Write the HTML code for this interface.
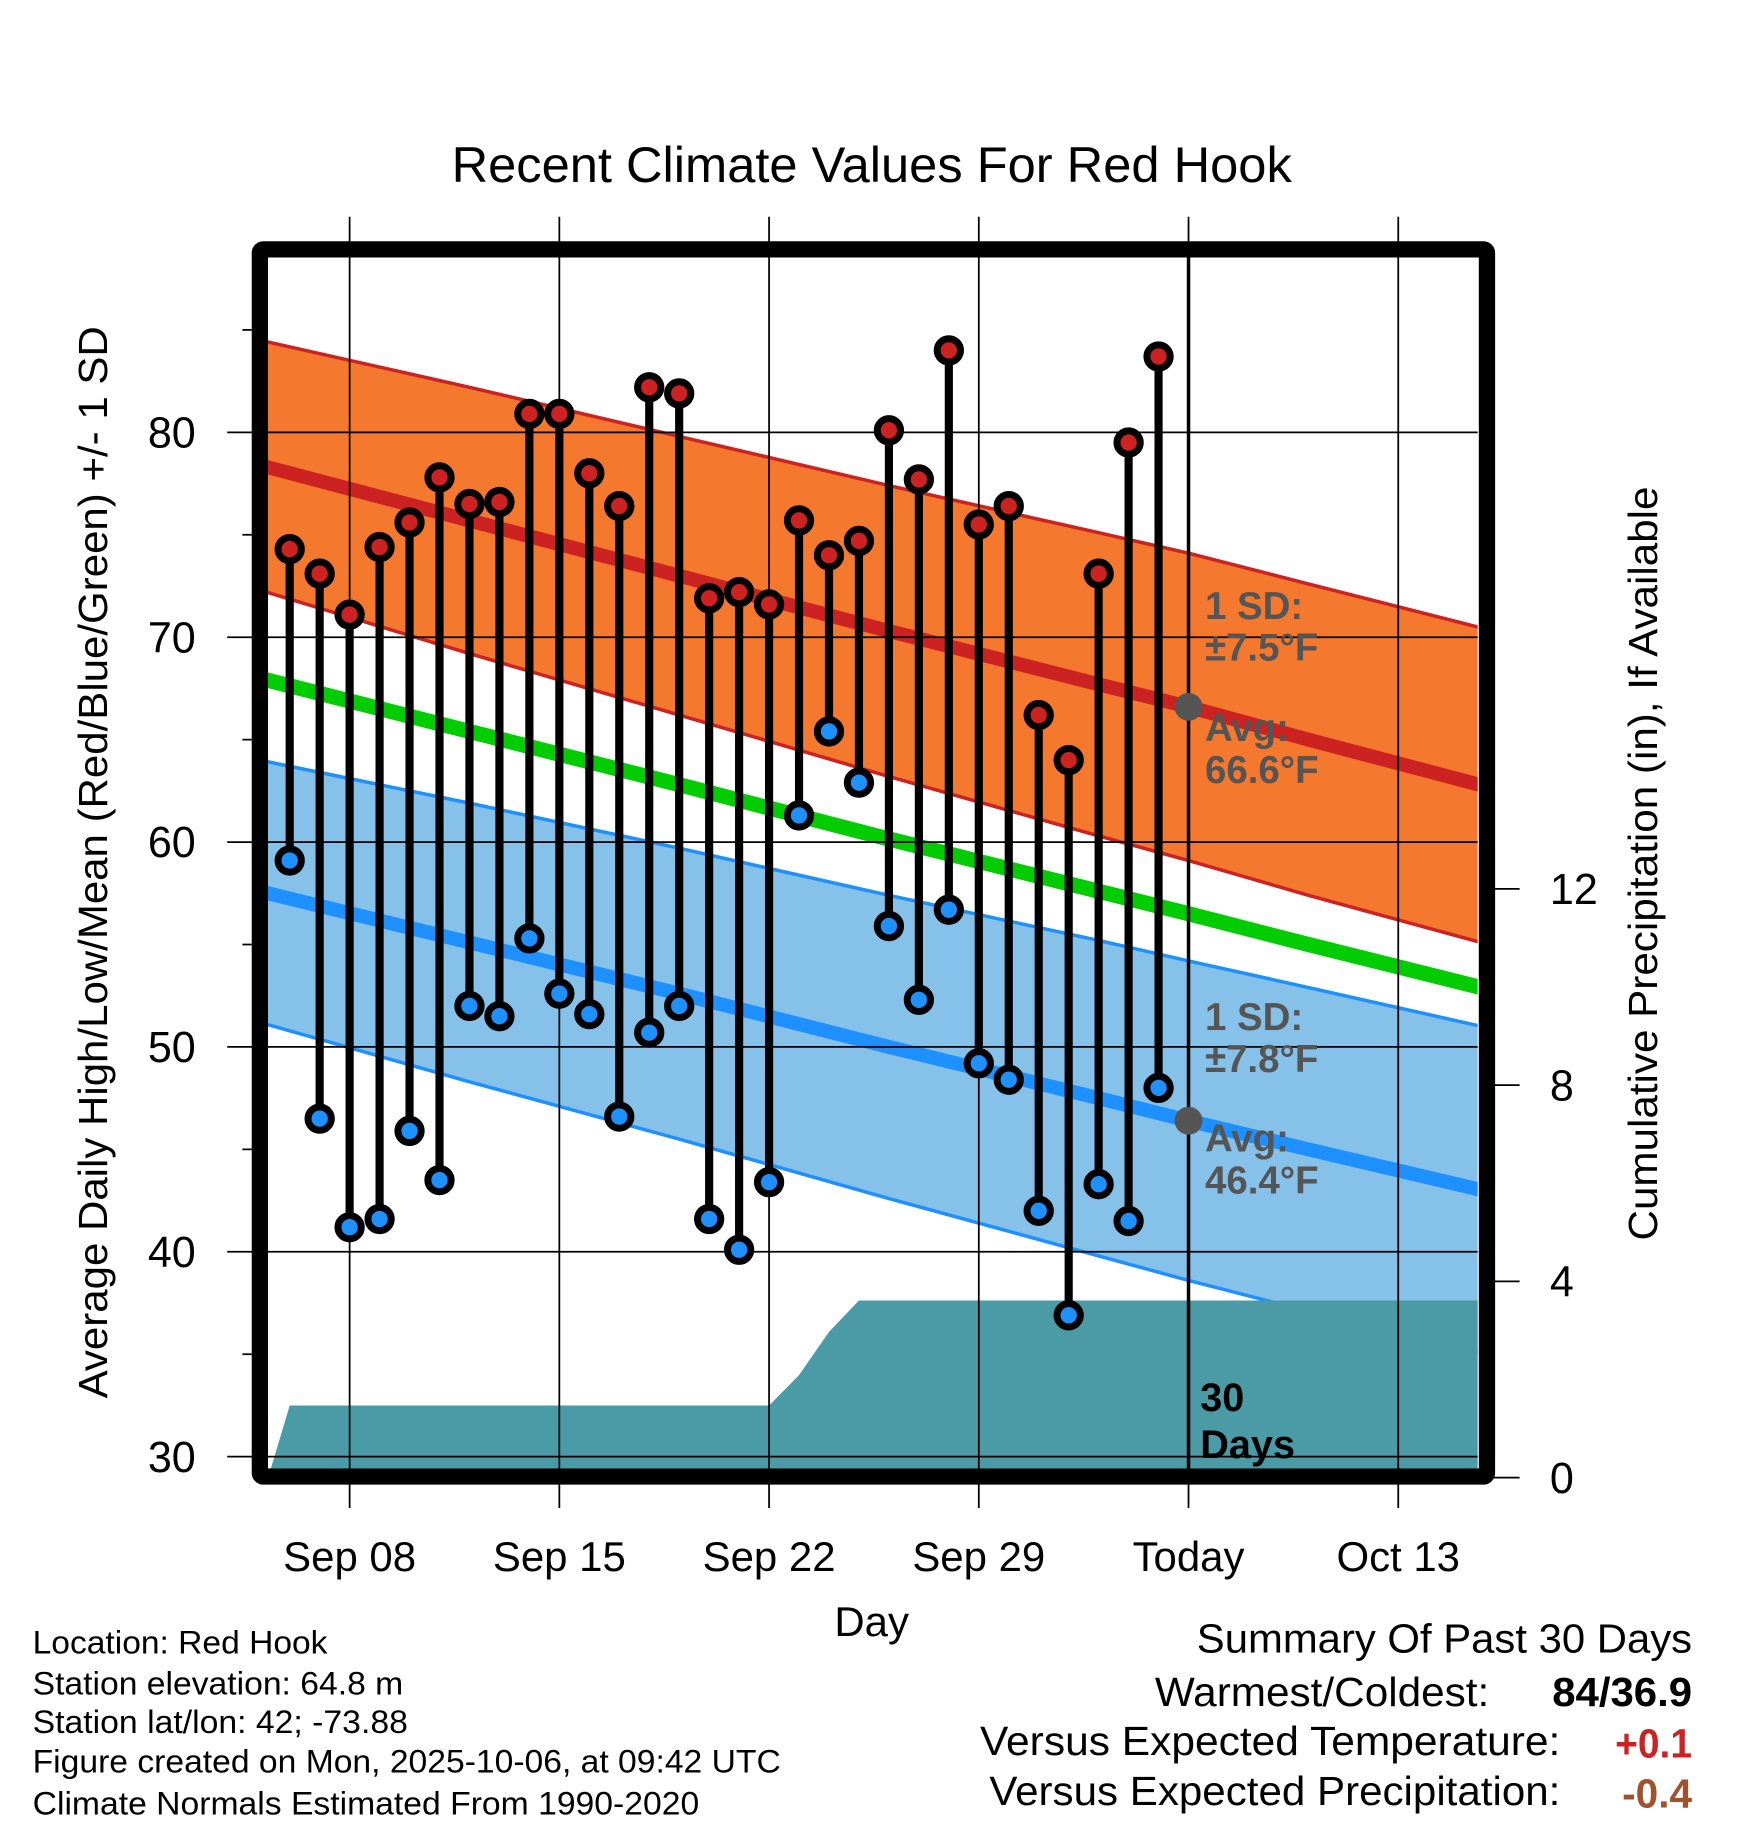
<!DOCTYPE html>
<html><head><meta charset="utf-8">
<style>
html,body{margin:0;padding:0;background:#fff;}
svg{display:block;font-family:"Liberation Sans",Arial,sans-serif;}
</style></head>
<body>
<svg id="chart" width="1748" height="1828" viewBox="0 0 1500 1568.65" preserveAspectRatio="none" xmlns="http://www.w3.org/2000/svg">
<defs><clipPath id="plotclip"><rect x="230" y="221" width="1038" height="1039"/></clipPath></defs>
<g id="bands" clip-path="url(#plotclip)"></g>
<g id="overlay"></g>
</svg>
<script>
// ---- data ----
const normDays   = [-1, 6, 13, 20, 27, 30, 34, 41];
const normHigh   = [78.4, 75.7, 73.0, 70.3, 67.7, 66.6, 65.0, 62.3];
const sdHigh     = [6.1, 6.5, 6.8, 7.1, 7.4, 7.5, 7.6, 7.7];
const normLow    = [57.6, 55.1, 52.6, 50.0, 47.5, 46.4, 45.0, 42.6];
const sdLow      = [6.4, 6.8, 7.1, 7.4, 7.7, 7.8, 7.9, 8.0];
const obsHigh = [74.3,73.1,71.1,74.4,75.6,77.8,76.5,76.6,80.9,80.9,78.0,76.4,82.2,81.9,71.9,72.2,71.6,75.7,74.0,74.7,80.1,77.7,84.0,75.5,76.4,66.2,64.0,73.1,79.5,83.7];
const obsLow  = [59.1,46.5,41.2,41.6,45.9,43.5,52.0,51.5,55.3,52.6,51.6,46.6,50.7,52.0,41.6,40.1,43.4,61.3,65.4,62.9,55.9,52.3,56.7,49.2,48.4,42.0,36.9,43.3,41.5,48.0];
const precipCum = [1.47,1.47,1.47,1.47,1.47,1.47,1.47,1.47,1.47,1.47,1.47,1.47,1.47,1.47,1.47,1.47,1.47,2.09,2.97,3.61,3.61,3.61,3.61,3.61,3.61,3.61,3.61,3.61,3.61,3.61];
const xTickDays   = [2, 9, 16, 23, 30, 37];
const xTickLabels = ["Sep 08","Sep 15","Sep 22","Sep 29","Today","Oct 13"];
const yTicks = [30,40,50,60,70,80];
const yMinor = [35,45,55,65,75,85];
const pTicks = [0,4,8,12];
const todayIdx = 30;

// ---- axes ----
const X = d => 248.6 + d*25.71;
const Y = t => 1250 - (t-30)*17.58;
const P = p => 1268 - p*42.1;
const NS='http://www.w3.org/2000/svg';
const bands=document.getElementById('bands'), ov=document.getElementById('overlay');
function mk(parent,tag,attrs,text){const e=document.createElementNS(NS,tag);for(const k in attrs)e.setAttribute(k,attrs[k]);if(text!==undefined)e.textContent=text;parent.appendChild(e);return e;}
const pts=(f)=>normDays.map((d,i)=>X(d)+','+Y(f(i))).join(' ');

let e;
e=mk(bands,'polygon',{points:pts(i=>normHigh[i]+sdHigh[i])+' '+normDays.map((d,i)=>X(d)+','+Y(normHigh[i]-sdHigh[i])).reverse().join(' '),fill:'#f5782f'});


e=mk(bands,'polygon',{points:pts(i=>normLow[i]+sdLow[i])+' '+normDays.map((d,i)=>X(d)+','+Y(normLow[i]-sdLow[i])).reverse().join(' '),fill:'#85c1e9'});


[[i=>normHigh[i]+sdHigh[i],'#cc2222',3],[i=>normHigh[i]-sdHigh[i],'#cc2222',3],[i=>normLow[i]+sdLow[i],'#1e90ff',3],[i=>normLow[i]-sdLow[i],'#1e90ff',3]].forEach(a=>{
  e=mk(bands,'polyline',{points:pts(a[0]),fill:'none',stroke:a[1],'stroke-width':a[2]});
  
  
});
e=mk(bands,'polyline',{points:pts(i=>normHigh[i]),fill:'none',stroke:'#cc2222','stroke-width':12});


e=mk(bands,'polyline',{points:pts(i=>normLow[i]),fill:'none',stroke:'#1e90ff','stroke-width':12});


e=mk(bands,'polyline',{points:pts(i=>(normHigh[i]+normLow[i])/2),fill:'none',stroke:'#00cc00','stroke-width':13});



let pp=[X(-0.72)+','+P(0)];
precipCum.forEach((v,i)=>pp.push(X(i)+','+P(v)));
pp.push(X(41)+','+P(precipCum[precipCum.length-1]));
pp.push(X(41)+','+P(0));
e=mk(bands,'polygon',{points:pp.join(' '),fill:'#4a9ba5'});



yTicks.forEach(t=>{
  e=mk(ov,'line',{x1:195,x2:1268,y1:Y(t),y2:Y(t),stroke:'#000','stroke-width':1.5});
  
  
  e=mk(ov,'text',{x:168,y:Y(t)+13,'font-size':37,'text-anchor':'end'},t);
  
  
});
yMinor.forEach(t=>{
  e=mk(ov,'line',{x1:208,x2:216,y1:Y(t),y2:Y(t),stroke:'#000','stroke-width':1.5});
  
  
});
xTickDays.forEach((d,i)=>{
  e=mk(ov,'line',{x1:X(d),x2:X(d),y1:186,y2:1294,stroke:'#000','stroke-width':1.5});
  
  
  e=mk(ov,'text',{x:X(d),y:1348,'font-size':36,'text-anchor':'middle'},xTickLabels[i]);
  
  
});
pTicks.forEach(p=>{
  e=mk(ov,'line',{x1:1276,x2:1304,y1:P(p),y2:P(p),stroke:'#000','stroke-width':1.5});
  
  
  e=mk(ov,'text',{x:1330,y:P(p)+13,'font-size':37},p);
  
  
});

e=mk(ov,'line',{x1:X(todayIdx),x2:X(todayIdx),y1:221,y2:1260,stroke:'#000','stroke-width':3});



obsHigh.forEach((h,i)=>{
  const x=X(i);
  e=mk(ov,'line',{x1:x,x2:x,y1:Y(h),y2:Y(obsLow[i]),stroke:'#000','stroke-width':7});
  
  
  e=mk(ov,'circle',{cx:x,cy:Y(h),r:10,fill:'#cc2222',stroke:'#000','stroke-width':6});
  
  
  e=mk(ov,'circle',{cx:x,cy:Y(obsLow[i]),r:10,fill:'#1e90ff',stroke:'#000','stroke-width':6});
  
  
});

const hiToday=normHigh[normDays.indexOf(30)], loToday=normLow[normDays.indexOf(30)];
e=mk(ov,'circle',{cx:X(todayIdx),cy:Y(hiToday),r:12,fill:'#555'});


e=mk(ov,'circle',{cx:X(todayIdx),cy:Y(loToday),r:12,fill:'#555'});



const ann=[["1 SD:",531],["±7.5°F",567],["Avg:",636],["66.6°F",672],["1 SD:",884],["±7.8°F",920],["Avg:",988],["46.4°F",1024]];
ann.forEach(a=>{
  e=mk(ov,'text',{x:1034,y:a[1],'font-size':33,'font-weight':'bold',fill:'#555'},a[0]);
  
  
});
e=mk(ov,'text',{x:1030,y:1211,'font-size':34,'font-weight':'bold'},"30");


e=mk(ov,'text',{x:1030,y:1251,'font-size':34,'font-weight':'bold'},"Days");



e=mk(ov,'rect',{x:223,y:214,width:1053,height:1053,fill:'none',stroke:'#000','stroke-width':14,rx:3});


</script>
<svg style="position:absolute;left:0;top:0" width="1748" height="1828" viewBox="0 0 1500 1568.65" preserveAspectRatio="none" xmlns="http://www.w3.org/2000/svg" font-family="Liberation Sans, Arial, sans-serif">
<text x="748" y="156" font-size="43" text-anchor="middle" textLength="721" lengthAdjust="spacingAndGlyphs">Recent Climate Values For Red Hook</text>
<text transform="translate(92,740) rotate(-90)" font-size="35" text-anchor="middle" textLength="920" lengthAdjust="spacingAndGlyphs">Average Daily High/Low/Mean (Red/Blue/Green) +/- 1 SD</text>
<text transform="translate(1422,741) rotate(-90)" font-size="35" text-anchor="middle" textLength="647" lengthAdjust="spacingAndGlyphs">Cumulative Precipitation (in), If Available</text>
<text x="748" y="1404" font-size="36" text-anchor="middle">Day</text>
<g font-size="28">
<text x="28" y="1419" textLength="253" lengthAdjust="spacingAndGlyphs">Location: Red Hook</text>
<text x="28" y="1454" textLength="318" lengthAdjust="spacingAndGlyphs">Station elevation: 64.8 m</text>
<text x="28" y="1487" textLength="322" lengthAdjust="spacingAndGlyphs">Station lat/lon: 42; -73.88</text>
<text x="28" y="1521" textLength="642" lengthAdjust="spacingAndGlyphs">Figure created on Mon, 2025-10-06, at 09:42 UTC</text>
<text x="28" y="1557" textLength="572" lengthAdjust="spacingAndGlyphs">Climate Normals Estimated From 1990-2020</text>
</g>
<g font-size="35">
<text x="1027" y="1418" textLength="425" lengthAdjust="spacingAndGlyphs">Summary Of Past 30 Days</text>
<text x="991" y="1464" textLength="287" lengthAdjust="spacingAndGlyphs">Warmest/Coldest:</text>
<text x="1332" y="1464" font-weight="bold" textLength="120" lengthAdjust="spacingAndGlyphs">84/36.9</text>
<text x="841" y="1506" textLength="498" lengthAdjust="spacingAndGlyphs">Versus Expected Temperature:</text>
<text x="1386" y="1508" font-weight="bold" fill="#cc2222" textLength="66" lengthAdjust="spacingAndGlyphs">+0.1</text>
<text x="849" y="1549" textLength="490" lengthAdjust="spacingAndGlyphs">Versus Expected Precipitation:</text>
<text x="1392" y="1551" font-weight="bold" fill="#a0522d" textLength="60" lengthAdjust="spacingAndGlyphs">-0.4</text>
</g>
</svg>
</body></html>
